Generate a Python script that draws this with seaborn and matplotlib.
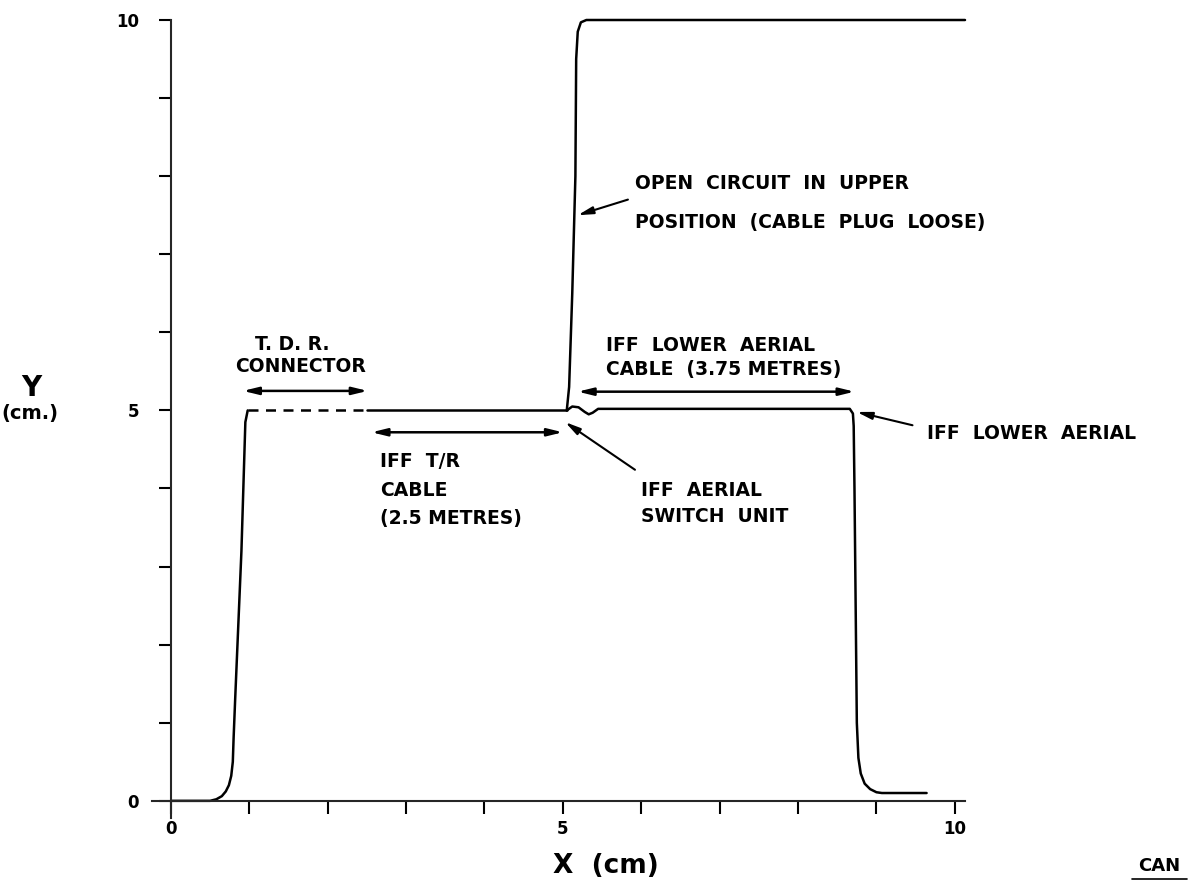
import numpy as np
import pandas as pd
import seaborn as sns
import matplotlib.pyplot as plt
from matplotlib.lines import Line2D

rise_x = [0, 0.5, 0.58, 0.65, 0.7, 0.74, 0.77, 0.79, 0.8, 0.82, 0.9, 0.95, 0.98]
rise_y = [0, 0, 0.02, 0.06, 0.12, 0.2, 0.32, 0.5, 0.8, 1.3, 3.2, 4.85, 5.0]

conn_x = [0.98, 2.5]
conn_y = [5.0, 5.0]

tr_x = [2.5, 5.05]
tr_y = [5.0, 5.0]

open_x = [5.05, 5.08, 5.12, 5.16, 5.17, 5.19, 5.23, 5.3, 10.13]
open_y = [5.0, 5.3, 6.5, 8.0, 9.5, 9.85, 9.97, 10.0, 10.0]

lower_x = [5.05, 5.12, 5.2, 5.28, 5.33, 5.38, 5.45, 5.6, 8.66, 8.7, 8.71, 8.72, 8.75, 8.77, 8.8, 8.85, 8.92, 9.0, 9.07, 9.64]
lower_y = [5.0, 5.05, 5.04, 4.98, 4.95, 4.97, 5.02, 5.02, 5.02, 4.96, 4.8, 4.0, 1.0, 0.55, 0.35, 0.22, 0.15, 0.11, 0.1, 0.1]

xticks = [0, 1, 2, 3, 4, 5, 6, 7, 8, 9, 10]
yticks = [0, 1, 2, 3, 4, 5, 6, 7, 8, 9, 10]
tick_labels = {0: '0', 5: '5', 10: '10'}

sns.set_style('ticks')
plt.rcParams['font.family'] = ['DejaVu Sans']

fig = plt.figure(figsize=(11.88, 8.85), dpi=100)
ax = fig.add_axes([0.128, 0.0757, 0.6843, 0.9017])

lw = 1.8
for xs, ys, ls in [(rise_x, rise_y, '-'), (conn_x, conn_y, (0, (4, 3))),
                   (tr_x, tr_y, '-'), (open_x, open_y, '-'), (lower_x, lower_y, '-')]:
    df = pd.DataFrame({'x': xs, 'y': ys})
    sns.lineplot(data=df, x='x', y='y', sort=False, estimator=None, ax=ax,
                 color='black', linewidth=lw, linestyle=ls, clip_on=False)

ax.set_xlim(-0.24, 10.13)
ax.set_ylim(-0.22, 10.0)
ax.set_xticks(xticks)
ax.set_yticks(yticks)
ax.set_xticklabels([tick_labels.get(t, '') for t in xticks])
ax.set_yticklabels([tick_labels.get(t, '') for t in yticks])
ax.set_xlabel('')
ax.set_ylabel('')
sns.despine(ax=ax)
for s in ['left', 'bottom']:
    ax.spines[s].set_linewidth(1.5)
    ax.spines[s].set_position(('data', 0))
ax.spines['left'].set_bounds(-0.22, 10.0)
ax.spines['bottom'].set_bounds(-0.24, 10.13)
ax.tick_params(axis='x', length=9, width=1.5, pad=5, labelsize=12, colors='black')
ax.tick_params(axis='y', length=9, width=1.5, pad=14, labelsize=12, colors='black')
for lab in ax.get_xticklabels() + ax.get_yticklabels():
    lab.set_fontweight('bold')

tkw = dict(fontsize=13.5, fontweight='bold', color='black')
darrow = dict(arrowstyle='<|-|>,head_length=0.9,head_width=0.22', color='black', lw=1.8,
              shrinkA=0, shrinkB=0)
sarrow = dict(arrowstyle='-|>,head_length=0.9,head_width=0.22', color='black', lw=1.5,
              shrinkA=0, shrinkB=0)

# T.D.R. connector
ax.text(1.55, 5.84, 'T. D. R.', ha='center', va='center', **tkw)
ax.text(1.65, 5.56, 'CONNECTOR', ha='center', va='center', **tkw)
ax.annotate('', xy=(0.92, 5.25), xytext=(2.51, 5.25), arrowprops=darrow)

# IFF T/R cable
ax.annotate('', xy=(2.56, 4.72), xytext=(5.0, 4.72), arrowprops=darrow)
ax.text(2.67, 4.34, 'IFF  T/R', ha='left', va='center', **tkw)
ax.text(2.67, 3.98, 'CABLE', ha='left', va='center', **tkw)
ax.text(2.67, 3.62, '(2.5 METRES)', ha='left', va='center', **tkw)

# IFF lower aerial cable
ax.text(5.55, 5.83, 'IFF  LOWER  AERIAL', ha='left', va='center', **tkw)
ax.text(5.55, 5.52, 'CABLE  (3.75 METRES)', ha='left', va='center', **tkw)
ax.annotate('', xy=(5.19, 5.24), xytext=(8.72, 5.24), arrowprops=darrow)

# open circuit
ax.text(5.92, 7.91, 'OPEN  CIRCUIT  IN  UPPER', ha='left', va='center', **tkw)
ax.text(5.92, 7.41, 'POSITION  (CABLE  PLUG  LOOSE)', ha='left', va='center', **tkw)
ax.annotate('', xy=(5.19, 7.5), xytext=(5.83, 7.7), arrowprops=sarrow)

# switch unit
ax.text(6.0, 3.98, 'IFF  AERIAL', ha='left', va='center', **tkw)
ax.text(6.0, 3.64, 'SWITCH  UNIT', ha='left', va='center', **tkw)
ax.annotate('', xy=(5.03, 4.85), xytext=(5.92, 4.24), arrowprops=sarrow)

# lower aerial
ax.text(9.64, 4.71, 'IFF  LOWER  AERIAL', ha='left', va='center', clip_on=False, **tkw)
ax.annotate('', xy=(8.75, 4.98), xytext=(9.46, 4.81), arrowprops=sarrow, annotation_clip=False)

# axis titles
fkw = dict(ha='center', va='center', fontweight='bold', color='black')
fig.text(0.026, 0.562, 'Y', fontsize=20, **fkw)
fig.text(0.025, 0.533, '(cm.)', fontsize=14, **fkw)
fig.text(0.51, 0.022, 'X  (cm)', fontsize=19, **fkw)

fig.text(0.976, 0.021, 'CAN', fontsize=13, **fkw)
fig.add_artist(Line2D([0.953, 0.999], [0.007, 0.007], color='black', lw=1.2,
                      transform=fig.transFigure))

fig.savefig('out.png', dpi=100)
